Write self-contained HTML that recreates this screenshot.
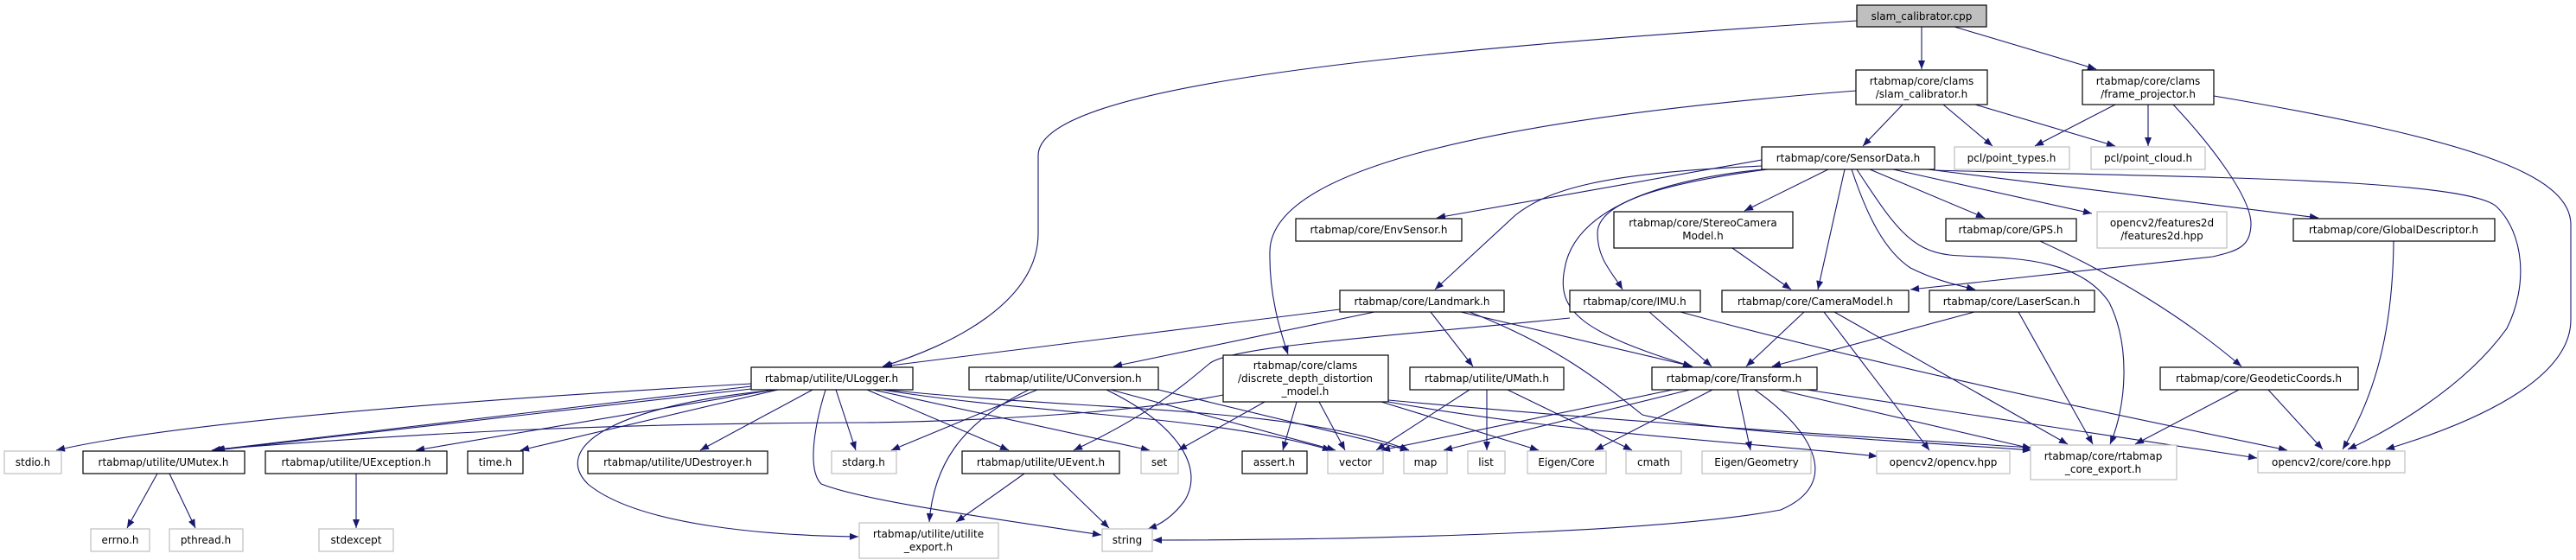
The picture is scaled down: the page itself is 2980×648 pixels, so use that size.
<!DOCTYPE html>
<html><head><meta charset="utf-8"><style>
html,body{margin:0;padding:0;background:#fff;}
svg{display:block;}
text{font-family:"DejaVu Sans","Liberation Sans",sans-serif;font-size:12px;fill:#000;text-anchor:middle;}
.n{fill:#fff;stroke:#000;stroke-width:1.2;}
.g{fill:#fff;stroke:#bfbfbf;stroke-width:1.2;}
.e{fill:none;stroke:#191970;stroke-width:1.1;marker-end:url(#a);}
</style></head><body>
<svg width="2980" height="648" viewBox="0 0 2980 648" xmlns="http://www.w3.org/2000/svg">
<defs><marker id="a" viewBox="0 0 10 8" refX="10" refY="4" markerWidth="11" markerHeight="8" markerUnits="userSpaceOnUse" orient="auto"><path d="M0,0 L10,4 L0,8 z" fill="#191970"/></marker></defs>

<!-- edges -->
<g>
<path class="e" d="M2223,31 L2223,80"/>
<path class="e" d="M2261,31 L2425,80"/>
<path class="e" d="M2148,24 C1600,60 1201,100 1201,180 L1201,270 C1201,350 1100,400 1021,424"/>
<path class="e" d="M2147,105 C1700,140 1470,200 1469,291 C1468,340 1480,380 1490,410"/>
<path class="e" d="M2201,121 L2155,169"/>
<path class="e" d="M2248,121 L2305,169"/>
<path class="e" d="M2285,121 L2447,169"/>
<path class="e" d="M2447,121 L2354,169"/>
<path class="e" d="M2485,121 L2485,169"/>
<path class="e" d="M2514,121 C2560,170 2605,230 2604,260 C2603,285 2590,290 2560,297 L2210,335"/>
<path class="e" d="M2561,111 C2850,160 2974,200 2974,260 L2974,370 C2974,440 2860,490 2760,520"/>
<path class="e" d="M2038,185 L1662,252"/>
<path class="e" d="M2040,192 C1850,200 1790,220 1753,249 L1660,335"/>
<path class="e" d="M2115,196 L2018,244"/>
<path class="e" d="M2134,196 L2103,335"/>
<path class="e" d="M2040,196 C1900,210 1820,250 1810,311 C1800,360 1830,385 1957,424"/>
<path class="e" d="M2045,196 C1900,215 1848,240 1848,270 C1848,300 1865,315 1877,335"/>
<path class="e" d="M2142,196 C2160,250 2180,290 2210,310 C2240,325 2265,330 2285,335"/>
<path class="e" d="M2163,196 L2296,252"/>
<path class="e" d="M2190,196 L2420,247"/>
<path class="e" d="M2230,196 L2682,252"/>
<path class="e" d="M2238,197 C2500,205 2850,205 2888,239 C2920,270 2925,330 2900,380 C2850,450 2760,500 2716,520"/>
<path class="e" d="M2148,196 C2190,260 2210,290 2255,295 C2300,300 2400,290 2440,350 C2465,400 2460,470 2441,514"/>
<path class="e" d="M2004,287 L2072,335"/>
<path class="e" d="M2360,279 C2450,320 2530,370 2593,424"/>
<path class="e" d="M2769,279 C2768,400 2740,470 2710,520"/>
<path class="e" d="M2590,451 L2470,514"/>
<path class="e" d="M2624,451 L2687,520"/>
<path class="e" d="M2087,361 L2020,424"/>
<path class="e" d="M2110,361 L2232,521"/>
<path class="e" d="M2122,361 L2392,514"/>
<path class="e" d="M2284,361 L2050,424"/>
<path class="e" d="M2335,361 L2421,514"/>
<path class="e" d="M1908,361 L1980,424"/>
<path class="e" d="M1816,368 C1600,390 1430,400 1400,420 C1370,445 1330,480 1242,521"/>
<path class="e" d="M1944,361 C2200,430 2450,480 2646,521"/>
<path class="e" d="M1550,358 L1022,424"/>
<path class="e" d="M1590,361 L1288,424"/>
<path class="e" d="M1655,361 L1704,424"/>
<path class="e" d="M1690,361 L1958,424"/>
<path class="e" d="M1700,361 C1800,400 1850,440 1900,480 C1980,500 2200,510 2350,521"/>
<path class="e" d="M1935,451 L1598,521"/>
<path class="e" d="M1955,451 L1670,521"/>
<path class="e" d="M1981,451 L1845,521"/>
<path class="e" d="M2010,451 L2025,521"/>
<path class="e" d="M2030,451 C2100,500 2130,560 2060,590 C1900,620 1500,625 1334,625"/>
<path class="e" d="M2058,451 L2350,519"/>
<path class="e" d="M2090,451 L2611,530"/>
<path class="e" d="M1700,451 L1592,521"/>
<path class="e" d="M1720,451 L1720,521"/>
<path class="e" d="M1744,451 L1888,521"/>
<path class="e" d="M1463,465 L1363,521"/>
<path class="e" d="M1500,465 L1484,521"/>
<path class="e" d="M1526,465 L1556,521"/>
<path class="e" d="M1598,465 L1780,521"/>
<path class="e" d="M1606,465 C1800,500 2000,510 2172,528"/>
<path class="e" d="M1606,463 C1900,490 2150,505 2350,518"/>
<path class="e" d="M1415,457 C1300,480 1100,488 1000,489 C700,490 500,500 249,520"/>
<path class="e" d="M1200,451 L1031,521"/>
<path class="e" d="M1190,451 C1110,490 1080,540 1075,604"/>
<path class="e" d="M1280,451 C1360,490 1395,540 1370,580 C1355,600 1340,608 1328,612"/>
<path class="e" d="M1285,451 L1545,521"/>
<path class="e" d="M1340,451 L1630,521"/>
<path class="e" d="M869,444 C500,465 200,490 65,521"/>
<path class="e" d="M869,447 L245,521"/>
<path class="e" d="M878,449 L250,521"/>
<path class="e" d="M895,451 L481,521"/>
<path class="e" d="M900,451 L602,521"/>
<path class="e" d="M940,451 L810,521"/>
<path class="e" d="M967,451 L990,521"/>
<path class="e" d="M1003,451 L1167,521"/>
<path class="e" d="M1010,451 L1330,521"/>
<path class="e" d="M1020,451 C1200,480 1400,480 1540,521"/>
<path class="e" d="M1025,451 C1250,475 1500,470 1630,521"/>
<path class="e" d="M955,451 C940,500 935,545 950,560 C1000,580 1150,600 1274,619"/>
<path class="e" d="M900,451 C700,470 640,520 680,560 C740,610 900,620 993,621"/>
<path class="e" d="M1185,548 L1106,604"/>
<path class="e" d="M1218,548 L1283,611"/>
<path class="e" d="M182,548 L147,611"/>
<path class="e" d="M196,548 L226,611"/>
<path class="e" d="M412,548 L412,611"/>
</g>

<!-- nodes -->
<rect x="2148" y="6" width="150" height="25" fill="#bfbfbf" stroke="#000" stroke-width="1.2"/><text x="2223" y="23">slam_calibrator.cpp</text>
<rect class="n" x="2147" y="81" width="152" height="40"/><text x="2223" y="98">rtabmap/core/clams</text><text x="2223" y="113">/slam_calibrator.h</text>
<rect class="n" x="2409" y="81" width="152" height="40"/><text x="2485" y="98">rtabmap/core/clams</text><text x="2485" y="113">/frame_projector.h</text>
<rect class="n" x="2038" y="170" width="200" height="26"/><text x="2138" y="187">rtabmap/core/SensorData.h</text>
<rect class="g" x="2261" y="170" width="133" height="26"/><text x="2327" y="187">pcl/point_types.h</text>
<rect class="g" x="2419" y="170" width="132" height="26"/><text x="2485" y="187">pcl/point_cloud.h</text>
<rect class="n" x="1499" y="253" width="192" height="26"/><text x="1595" y="270">rtabmap/core/EnvSensor.h</text>
<rect class="n" x="1867" y="245" width="207" height="42"/><text x="1970" y="262">rtabmap/core/StereoCamera</text><text x="1970" y="277">Model.h</text>
<rect class="n" x="2251" y="253" width="151" height="26"/><text x="2326" y="270">rtabmap/core/GPS.h</text>
<rect class="g" x="2426" y="245" width="150" height="42"/><text x="2501" y="262">opencv2/features2d</text><text x="2501" y="277">/features2d.hpp</text>
<rect class="n" x="2653" y="253" width="233" height="26"/><text x="2769" y="270">rtabmap/core/GlobalDescriptor.h</text>
<rect class="n" x="1550" y="336" width="190" height="25"/><text x="1645" y="353">rtabmap/core/Landmark.h</text>
<rect class="n" x="1816" y="336" width="151" height="25"/><text x="1891" y="353">rtabmap/core/IMU.h</text>
<rect class="n" x="1992" y="336" width="216" height="25"/><text x="2100" y="353">rtabmap/core/CameraModel.h</text>
<rect class="n" x="2232" y="336" width="191" height="25"/><text x="2327" y="353">rtabmap/core/LaserScan.h</text>
<rect class="n" x="869" y="425" width="187" height="26"/><text x="962" y="442">rtabmap/utilite/ULogger.h</text>
<rect class="n" x="1121" y="425" width="219" height="26"/><text x="1230" y="442">rtabmap/utilite/UConversion.h</text>
<rect class="n" x="1415" y="411" width="191" height="54"/><text x="1510" y="427">rtabmap/core/clams</text><text x="1510" y="442">/discrete_depth_distortion</text><text x="1510" y="457">_model.h</text>
<rect class="n" x="1631" y="425" width="178" height="26"/><text x="1720" y="442">rtabmap/utilite/UMath.h</text>
<rect class="n" x="1911" y="425" width="191" height="26"/><text x="2006" y="442">rtabmap/core/Transform.h</text>
<rect class="n" x="2499" y="425" width="229" height="26"/><text x="2613" y="442">rtabmap/core/GeodeticCoords.h</text>
<rect class="g" x="5" y="522" width="66" height="26"/><text x="38" y="539">stdio.h</text>
<rect class="n" x="96" y="522" width="187" height="26"/><text x="189" y="539">rtabmap/utilite/UMutex.h</text>
<rect class="n" x="307" y="522" width="210" height="26"/><text x="412" y="539">rtabmap/utilite/UException.h</text>
<rect class="n" x="541" y="522" width="64" height="26"/><text x="573" y="539">time.h</text>
<rect class="n" x="680" y="522" width="208" height="26"/><text x="784" y="539">rtabmap/utilite/UDestroyer.h</text>
<rect class="g" x="962" y="522" width="75" height="26"/><text x="999" y="539">stdarg.h</text>
<rect class="n" x="1113" y="522" width="182" height="26"/><text x="1204" y="539">rtabmap/utilite/UEvent.h</text>
<rect class="g" x="1320" y="522" width="43" height="26"/><text x="1341" y="539">set</text>
<rect class="n" x="1437" y="522" width="75" height="26"/><text x="1474" y="539">assert.h</text>
<rect class="g" x="1536" y="522" width="64" height="26"/><text x="1568" y="539">vector</text>
<rect class="g" x="1624" y="522" width="50" height="26"/><text x="1649" y="539">map</text>
<rect class="g" x="1698" y="522" width="43" height="26"/><text x="1719" y="539">list</text>
<rect class="g" x="1767" y="522" width="91" height="26"/><text x="1812" y="539">Eigen/Core</text>
<rect class="g" x="1881" y="522" width="64" height="26"/><text x="1913" y="539">cmath</text>
<rect class="g" x="1969" y="522" width="126" height="26"/><text x="2032" y="539">Eigen/Geometry</text>
<rect class="g" x="2171" y="522" width="154" height="26"/><text x="2248" y="539">opencv2/opencv.hpp</text>
<rect class="g" x="2349" y="515" width="169" height="40"/><text x="2433" y="532">rtabmap/core/rtabmap</text><text x="2433" y="547">_core_export.h</text>
<rect class="g" x="2612" y="522" width="170" height="25"/><text x="2697" y="539">opencv2/core/core.hpp</text>
<rect class="g" x="105" y="612" width="68" height="26"/><text x="139" y="629">errno.h</text>
<rect class="g" x="196" y="612" width="85" height="26"/><text x="238" y="629">pthread.h</text>
<rect class="g" x="369" y="612" width="86" height="26"/><text x="412" y="629">stdexcept</text>
<rect class="g" x="994" y="605" width="161" height="41"/><text x="1074" y="622">rtabmap/utilite/utilite</text><text x="1074" y="637">_export.h</text>
<rect class="g" x="1275" y="612" width="58" height="26"/><text x="1304" y="629">string</text>
</svg>
</body></html>
